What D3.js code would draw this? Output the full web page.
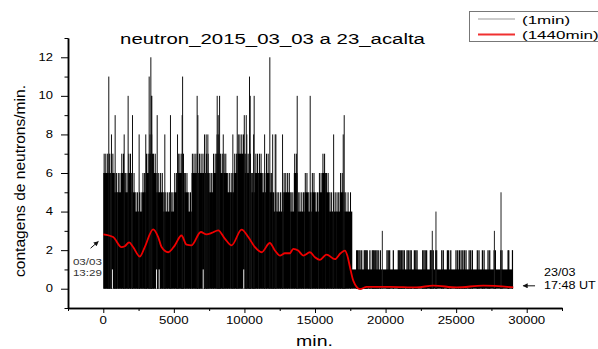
<!DOCTYPE html>
<html><head><meta charset="utf-8">
<script src="https://cdn.jsdelivr.net/npm/d3@7"></script>
<style>body{margin:0;background:#fff}svg{display:block}</style>
</head><body><svg id="c" width="598" height="349"></svg>
<script>
// ---------- chart text ----------
const title = "neutron_2015_03_03 a 23_acalta";
const xLabel = "min.";
const yLabel = "contagens de neutrons/min.";
const xTicks = [0, 5000, 10000, 15000, 20000, 25000, 30000];
const yTicks = [0, 2, 4, 6, 8, 10, 12];
const legendLabels = ["(1min)", "(1440min)"];
const startNote = ["03/03", "13:29"];
const endNote = ["23/03", "17:48 UT"];

// ---------- 1-min counts, segment 1 (max count per 250-min bin) ----------
const binStep1 = 250;
const binTop1 = [7,7,7,6,6,7,6,7,6,5, 5,6,7,8,7,6,6,5,5,5, 6,7,7,6,5,7,7,7,7,7,
                 6,7,8,7,7,6,6,7,8,8, 7,7,6,7,7,6,7,6,5,5, 5,6,6,5,7,5,5,6,5,6,
                 5,6,7,6,5,5,5,6,5,5];
const seg1End = 17620;
// isolated high counts in segment 1
const spikeMin1 = [390,580,840,1480,1760,2070,2540,3010,3250,3370,3410,3440,3820,4360,4760,5260,5590,5620,
                   6650,6700,7170,7290,7410,8070,8140,8240,8500,9180,9490,9990,10130,10170,10360,10410,10650,
                   10690,11430,11800,12000,12180,12230,12700,13740,14660,16320,17000,17070];
const spikeVal1 = [11,8,9,8,10,9,8,8,11,12,10,10,9,8,9,8,9,11,
                   10,9,8,8,8,10,9,10,8,8,10,9,9,8,11,10,8,
                   10,8,12,8,8,8,8,10,10,8,8,9];
// minutes where the 1-min minimum stayed at 1
const minOneMin1 = [650, 3770, 3960, 7080, 9950];

// ---------- 1-min counts, segment 2 ----------
const seg2Start = 17620, seg2End = 29030, seg2Base = 1;
const stripeMin2 = [17950,18020,18110,18190,18310,18490,18560,18630,18700,18890,19060,19130,19200,19300,19390,
  19480,19630,20100,20190,20290,20550,20900,20970,21040,21140,21230,21330,21520,21610,21730,21820,22040,22140,
  22230,22630,22720,22810,22910,23170,23220,23290,23380,23550,23620,23980,24090,24380,24470,24620,24990,25110,
  25230,25350,25470,25580,25700,25920,26030,26150,26500,26620,26860,26980,27260,27380,27690,27780,28160,28250,
  28680,28730,28990];
const stripeVal2 = 2;
const spikeMin2 = [19770, 23310, 23570, 27710, 28180];
const spikeVal2 = [3, 3, 4, 3, 5];

// ---------- 1440-min running mean ----------
const avgMin = [0,700,1290,1520,1830,2110,2590,2940,3530,3890,4130,4600,5070,5540,5900,6250,6910,7310,7680,
  8140,8610,9090,9800,10270,10740,11220,11800,12160,12510,12870,13220,13460,13810,14170,14640,15000,15350,
  15820,16410,16810,17120,17290,17480,17710,18190,18660,20310,22200,23380,25040,26930,29050];
const avgVal = [2.82,2.68,2.16,2.2,2.4,2.16,1.67,2.16,3.08,2.68,2.16,1.89,2.25,2.76,2.28,2.25,2.94,2.82,2.89,
  3.03,2.6,2.25,3.06,2.68,2.16,1.89,2.37,1.98,1.72,1.84,1.84,2.07,1.98,1.72,1.89,1.63,1.5,
  1.77,1.53,1.84,1.98,1.72,1.11,0.42,-0.02,0.1,0.1,0.07,0.16,0.07,0.16,0.07];

// ---------- drawing ----------
const svg = d3.select("#c");
const FONT = "'Liberation Sans', Arial, sans-serif";
const x = d3.scaleLinear().domain([-2500, 32500]).range([68, 562]);
const y = d3.scaleLinear().domain([-1, 13]).range([308, 38]);

function sText(g, str, px, py, size, sx, anchor, fill) {
  return g.append("text")
    .attr("transform", `translate(${px},${py}) scale(${sx},1)`)
    .attr("text-anchor", anchor || "start")
    .attr("font-family", FONT).attr("font-size", size)
    .attr("fill", fill || "#000").text(str);
}

const data = svg.append("g");
// segment 1 bins
binTop1.forEach((top, k) => {
  const m0 = k * binStep1;
  const m1 = (k === binTop1.length - 1) ? seg1End : (k + 1) * binStep1;
  const x0 = x(m0), x1 = x(m1), w = x1 - x0;
  data.append("rect").attr("x", x0).attr("width", w + 0.3)
    .attr("y", y(top - 1)).attr("height", y(0) - y(top - 1)).attr("fill", "#000");
  [0.25, 0.72].forEach(f => {
    data.append("line").attr("x1", x0 + f * w).attr("x2", x0 + f * w)
      .attr("y1", y(0)).attr("y2", y(top)).attr("stroke", "#000").attr("stroke-width", 1);
  });
});
spikeMin1.forEach((m, i) => {
  data.append("line").attr("x1", x(m)).attr("x2", x(m))
    .attr("y1", y(0)).attr("y2", y(spikeVal1[i])).attr("stroke", "#111").attr("stroke-width", 1);
});
minOneMin1.forEach(m => {
  data.append("line").attr("x1", x(m)).attr("x2", x(m))
    .attr("y1", y(0)).attr("y2", y(1)).attr("stroke", "#fff").attr("stroke-width", 0.9);
});
// segment 2
data.append("rect").attr("x", x(seg2Start)).attr("width", x(seg2End) - x(seg2Start))
  .attr("y", y(seg2Base)).attr("height", y(0) - y(seg2Base)).attr("fill", "#000");
stripeMin2.forEach(m => {
  data.append("line").attr("x1", x(m)).attr("x2", x(m))
    .attr("y1", y(0)).attr("y2", y(stripeVal2)).attr("stroke", "#000").attr("stroke-width", 1.2);
});
spikeMin2.forEach((m, i) => {
  data.append("line").attr("x1", x(m)).attr("x2", x(m))
    .attr("y1", y(0)).attr("y2", y(spikeVal2[i])).attr("stroke", "#222").attr("stroke-width", 1);
});
// running mean
const avg = avgMin.map((m, i) => [m, avgVal[i]]);
data.append("path").datum(avg)
  .attr("d", d3.line().x(d => x(d[0])).y(d => y(d[1])).curve(d3.curveMonotoneX))
  .attr("fill", "none").attr("stroke", "#ee0000").attr("stroke-width", 1.8);

// ---------- axes ----------
const gx = svg.append("g").attr("transform", `translate(0,${y(-1)})`);
gx.call(d3.axisBottom(x).tickValues(d3.range(-2500, 32501, 5000)).tickSize(3).tickSizeOuter(0).tickFormat(""));
gx.append("g").call(d3.axisBottom(x).tickValues(xTicks).tickSize(5).tickSizeOuter(0).tickFormat(""));
xTicks.forEach(v => sText(gx, d3.format("d")(v), x(v), 16, 10, 1.33, "middle"));

const gy = svg.append("g").attr("transform", `translate(${x(-2500)},0)`);
gy.call(d3.axisLeft(y).tickValues(d3.range(-1, 13.5, 2)).tickSize(3.5).tickSizeOuter(0).tickFormat(""));
gy.append("g").call(d3.axisLeft(y).tickValues(yTicks).tickSize(7).tickSizeOuter(0).tickFormat(""));
yTicks.forEach(v => sText(gy, String(v), -15, y(v) + 3.6, 10, 1.3, "end"));

svg.selectAll(".domain").attr("stroke", "#000").attr("stroke-width", 1.5);
svg.selectAll(".tick line").attr("stroke", "#000").attr("stroke-width", 1);

// ---------- titles ----------
sText(svg, title, 272.5, 44, 15, 1.36, "middle");
sText(svg, xLabel, 314.5, 346, 15, 1.3, "middle");
svg.append("text").attr("transform", `translate(25,181) rotate(-90)`)
  .attr("text-anchor", "middle").attr("font-family", FONT).attr("font-size", 14.5)
  .attr("textLength", 192).attr("lengthAdjust", "spacingAndGlyphs").text(yLabel);

// ---------- legend ----------
const lg = svg.append("g");
lg.append("rect").attr("x", 469.5).attr("y", 11.5).attr("width", 140).attr("height", 30)
  .attr("fill", "#fff").attr("stroke", "#777").attr("stroke-width", 1);
lg.append("line").attr("x1", 478).attr("x2", 515).attr("y1", 19).attr("y2", 19)
  .attr("stroke", "#999").attr("stroke-width", 1.2);
lg.append("line").attr("x1", 478).attr("x2", 515).attr("y1", 34.5).attr("y2", 34.5)
  .attr("stroke", "#f03030").attr("stroke-width", 2);
sText(lg, legendLabels[0], 522, 24, 11.5, 1.48, "start");
sText(lg, legendLabels[1], 522, 39, 11.5, 1.48, "start");

// ---------- annotations ----------
const ann = svg.append("g");
ann.append("defs").append("marker").attr("id", "ah").attr("viewBox", "0 0 10 10")
  .attr("refX", 9).attr("refY", 5).attr("markerWidth", 7).attr("markerHeight", 5)
  .attr("orient", "auto").append("path").attr("d", "M0,0L10,5L0,10z").attr("fill", "#111");
ann.append("line").attr("x1", x(-900)).attr("y1", y(2.1)).attr("x2", x(-350)).attr("y2", y(2.45))
  .attr("stroke", "#111").attr("stroke-width", 1).attr("marker-end", "url(#ah)");
sText(ann, startNote[0], x(-2150), y(1.23), 9.5, 1.22, "start", "#333");
sText(ann, startNote[1], x(-2150), y(0.66), 9.5, 1.22, "start", "#333");
ann.append("line").attr("x1", x(30590)).attr("y1", y(0.15)).attr("x2", x(29750)).attr("y2", y(0.15))
  .attr("stroke", "#111").attr("stroke-width", 1).attr("marker-end", "url(#ah)");
sText(ann, endNote[0], 544, 276, 10, 1.26, "start");
sText(ann, endNote[1], 544, 289, 10, 1.26, "start");
</script></body></html>
